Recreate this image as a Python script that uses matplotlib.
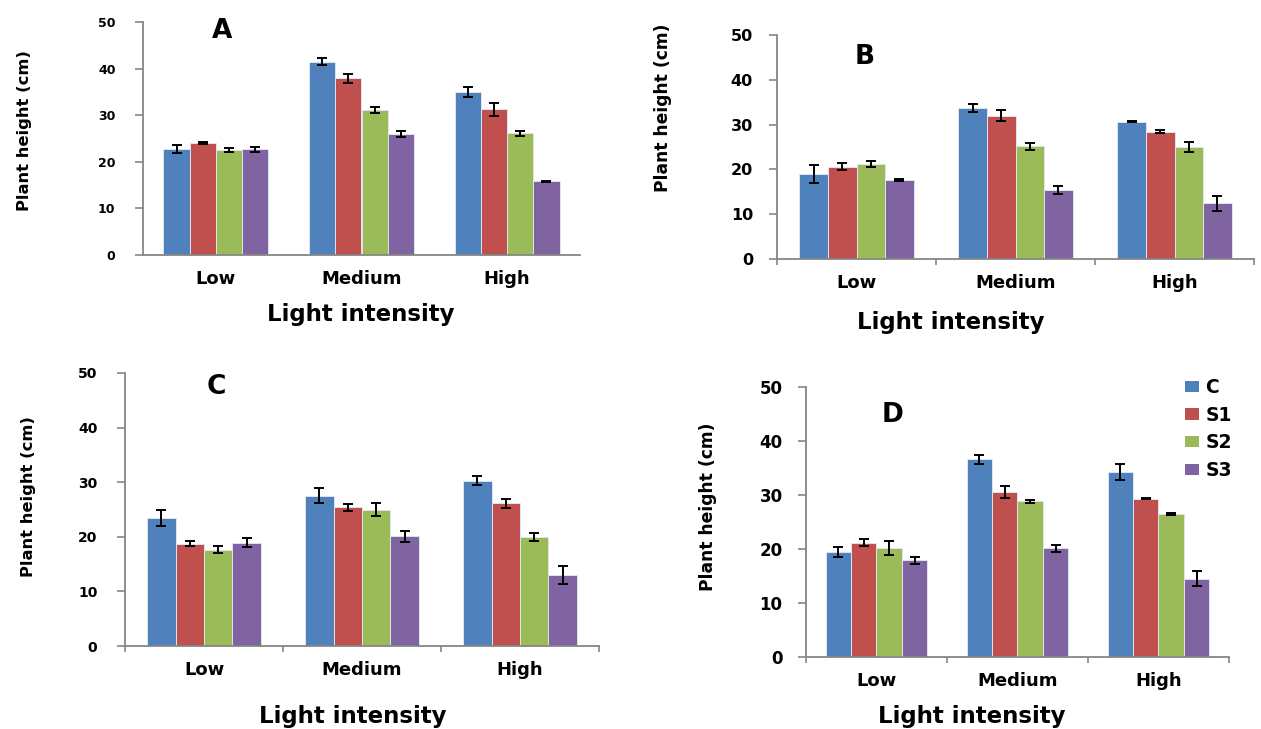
import numpy as np
import matplotlib
matplotlib.use('Agg')
from matplotlib import pyplot as plt
from matplotlib.patches import Patch

W, H = 1261, 729

categories = ['Low', 'Medium', 'High']
series = ['C', 'S1', 'S2', 'S3']
colors = ['#4F81BD', '#C0504D', '#9BBB59', '#8064A2']
yticks = [0, 10, 20, 30, 40, 50]

# rows = C, S1, S2, S3 ; cols = Low, Medium, High
A_mean = [[22.7, 41.5, 35.0], [24.0, 37.9, 31.3], [22.5, 31.1, 26.1], [22.7, 26.0, 15.8]]
A_err = [[0.9, 0.75, 1.0], [0.25, 0.9, 1.4], [0.4, 0.6, 0.5], [0.5, 0.65, 0.1]]

B_mean = [[18.9, 33.8, 30.6], [20.6, 32.0, 28.4], [21.2, 25.2, 25.0], [17.7, 15.3, 12.4]]
B_err = [[2.0, 0.9, 0.1], [0.75, 1.3, 0.3], [0.75, 0.8, 1.1], [0.25, 0.9, 1.6]]

C_mean = [[23.4, 27.5, 30.3], [18.7, 25.4, 26.1], [17.6, 25.0, 19.9], [18.9, 20.1, 13.0]]
C_err = [[1.5, 1.35, 0.9], [0.45, 0.65, 0.9], [0.65, 1.15, 0.75], [0.85, 1.05, 1.7]]

D_mean = [[19.4, 36.6, 34.3], [21.2, 30.6, 29.3], [20.2, 28.8, 26.5], [17.9, 20.1, 14.5]]
D_err = [[0.9, 0.8, 1.5], [0.6, 1.1, 0.1], [1.3, 0.35, 0.2], [0.7, 0.6, 1.35]]

AXIS_GRAY = '#868686'


def fx(x):
  return x / W


def fy(y):
  return 1 - y / H


def draw_panel(fig, means, errs, box, letter, letter_xy, ylab_xy, xlab_xy,
               tick_fs, tick_pad, ylab_fs, cat_ticks):
  x0, y_top, x1, y_zero = box
  ax = fig.add_axes([fx(x0), fy(y_zero), (x1 - x0) / W, (y_zero - y_top) / H])

  x = np.arange(len(categories))
  bw = 0.18
  for i in range(len(series)):
    off = (i - 1.5) * bw
    ax.bar(x + off, means[i], bw, color=colors[i], edgecolor='#dfe4ee',
           linewidth=0.7, zorder=2)
    ax.errorbar(x + off, means[i], yerr=errs[i], fmt='none', ecolor='black',
                elinewidth=1.4, capsize=3.8, capthick=1.4, zorder=3)

  ax.set_xlim(-0.5, 2.5)
  ax.set_ylim(0, 50)
  ax.set_yticks(yticks)
  ax.set_yticklabels([str(t) for t in yticks], fontsize=tick_fs, fontweight='bold')
  ax.set_xticks(x)
  ax.set_xticklabels(categories, fontsize=13, fontweight='bold')

  for s in ['top', 'right']:
    ax.spines[s].set_visible(False)
  for s in ['left', 'bottom']:
    ax.spines[s].set_color(AXIS_GRAY)
    ax.spines[s].set_linewidth(1.3)

  ax.tick_params(axis='y', length=5.8, width=1.2, color=AXIS_GRAY, pad=tick_pad)
  ax.tick_params(axis='x', which='major', length=0, pad=11)
  if cat_ticks:
    ax.set_xticks([-0.5, 0.5, 1.5, 2.5], minor=True)
    ax.tick_params(axis='x', which='minor', length=4.5, width=1.2, color=AXIS_GRAY)

  fig.text(fx(letter_xy[0]), fy(letter_xy[1]), letter, fontsize=19,
           fontweight='bold', ha='center', va='baseline')
  fig.text(fx(ylab_xy[0]), fy(ylab_xy[1]), 'Plant height (cm)', fontsize=ylab_fs,
           fontweight='bold', rotation=90, ha='center', va='center')
  fig.text(fx(xlab_xy[0]), fy(xlab_xy[1]), 'Light intensity', fontsize=16.5,
           fontweight='bold', ha='center', va='center')
  return ax


def main():
  fig = plt.figure(figsize=(W / 100, H / 100), dpi=100)
  fig.patch.set_facecolor('white')

  draw_panel(fig, A_mean, A_err, (143, 22, 580, 255), 'A', (222, 38), (25, 131),
             (361, 315), 9, 14, 11.8, False)
  draw_panel(fig, B_mean, B_err, (777, 35, 1254, 259), 'B', (865, 64), (663, 108),
             (951, 322), 11.5, 11.5, 12.3, True)
  draw_panel(fig, C_mean, C_err, (125, 373, 599, 646), 'C', (216, 394), (29, 497),
             (353, 717), 10, 14, 11.8, True)
  draw_panel(fig, D_mean, D_err, (806, 387, 1229, 657), 'D', (893, 422), (708, 507),
             (972, 717), 12, 11, 12.3, True)

  handles = [Patch(facecolor=c, edgecolor='none') for c in colors]
  fig.legend(handles, series, loc='upper left',
             bbox_to_anchor=(fx(1185), fy(378)), frameon=False,
             prop={'size': 13.5, 'weight': 'bold'}, handlelength=0.75,
             handleheight=0.53, handletextpad=0.35, labelspacing=0.46,
             borderpad=0, borderaxespad=0)

  fig.savefig('out.png', dpi=100)


if __name__ == "__main__":
  main()
